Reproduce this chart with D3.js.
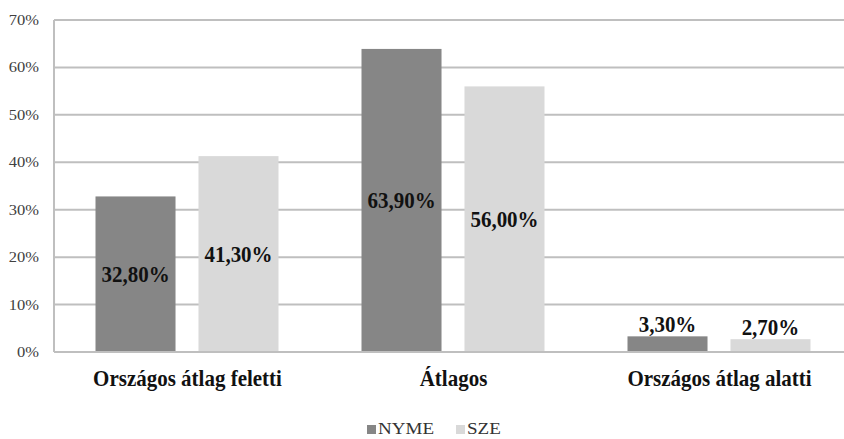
<!DOCTYPE html>
<html><head><meta charset="utf-8">
<script src="https://cdn.jsdelivr.net/npm/d3@7"></script>
<style>body{margin:0;background:#fff;} svg{display:block;}</style>
</head><body>
<svg id="c" width="844" height="439"></svg>
<script>
const categories = ["Országos átlag feletti", "Átlagos", "Országos átlag alatti"];
const seriesNames = ["NYME", "SZE"];
const nyme = [32.8, 63.9, 3.3];
const sze = [41.3, 56.0, 2.7];
const yTicks = [0, 10, 20, 30, 40, 50, 60, 70];
const colors = ["#868686", "#d9d9d9"];

(function () {
const svg = d3.select("#c");
const mLeft = 54, mRight = 852, mTop = 20, mBottom = 352;
const y = d3.scaleLinear().domain([0, 70]).range([mBottom, mTop]);
const x = d3.scaleBand().domain(categories).range([mLeft, mRight]).paddingInner(0).paddingOuter(0);
const inner = d3.scaleBand().domain(seriesNames).range([41.5, x.bandwidth() - 41.5]).paddingInner(0.223);
const fmt = v => v.toFixed(2).replace(".", ",") + "%";
const serif = "'Liberation Serif','Times New Roman',serif";

svg.append("g").selectAll("line").data(yTicks).join("line")
  .attr("x1", mLeft).attr("x2", 844)
  .attr("y1", d => y(d)).attr("y2", d => y(d))
  .attr("stroke", "#bfbfbf").attr("stroke-width", 2);
svg.append("line").attr("x1", mLeft).attr("x2", mLeft).attr("y1", mTop).attr("y2", mBottom)
  .attr("stroke", "#bfbfbf").attr("stroke-width", 2);

svg.append("g").selectAll("text").data(yTicks).join("text")
  .attr("transform", d => `translate(39,${y(d) + 5}) scale(1.1,1)`)
  .attr("text-anchor", "end").attr("font-family", serif).attr("font-size", 15)
  .attr("fill", "#404040").text(d => d + "%");

const data = [];
categories.forEach((c, i) => {
  data.push({c, s: "NYME", v: nyme[i], col: colors[0]});
  data.push({c, s: "SZE", v: sze[i], col: colors[1]});
});

svg.append("g").selectAll("rect").data(data).join("rect")
  .attr("x", d => x(d.c) + inner(d.s)).attr("width", inner.bandwidth())
  .attr("y", d => y(d.v)).attr("height", d => mBottom - y(d.v))
  .attr("fill", d => d.col);

svg.append("line").attr("x1", mLeft).attr("x2", 844).attr("y1", mBottom).attr("y2", mBottom)
  .attr("stroke", "#bfbfbf").attr("stroke-width", 2);

svg.append("g").selectAll("text").data(data).join("text")
  .attr("transform", d => {
    const cx = x(d.c) + inner(d.s) + inner.bandwidth() / 2;
    const cy = d.v > 10 ? (y(d.v) + mBottom) / 2 + 8 : y(d.v) - 4;
    return `translate(${cx},${cy}) scale(1,1.12)`;
  })
  .attr("text-anchor", "middle").attr("font-family", serif).attr("font-weight", "bold")
  .attr("font-size", 21).attr("fill", "#111").text(d => fmt(d.v));

svg.append("g").selectAll("text").data(categories).join("text")
  .attr("transform", d => `translate(${x(d) + x.bandwidth() / 2 + 0.5},386) scale(1,1.12)`)
  .attr("text-anchor", "middle").attr("font-family", serif).attr("font-weight", "bold")
  .attr("font-size", 21).attr("fill", "#111").text(d => d);

const lg = svg.append("g");
const legendItems = [{n: "NYME", c: colors[0], x: 367}, {n: "SZE", c: colors[1], x: 456}];
lg.selectAll("rect").data(legendItems).join("rect")
  .attr("x", d => d.x).attr("y", 425).attr("width", 9).attr("height", 9).attr("fill", d => d.c);
lg.selectAll("text").data(legendItems).join("text")
  .attr("transform", d => `translate(${d.x + 11},434) scale(1.12,1)`)
  .attr("font-family", serif).attr("font-size", 17).attr("fill", "#333").text(d => d.n);
})();
</script>
</body></html>
